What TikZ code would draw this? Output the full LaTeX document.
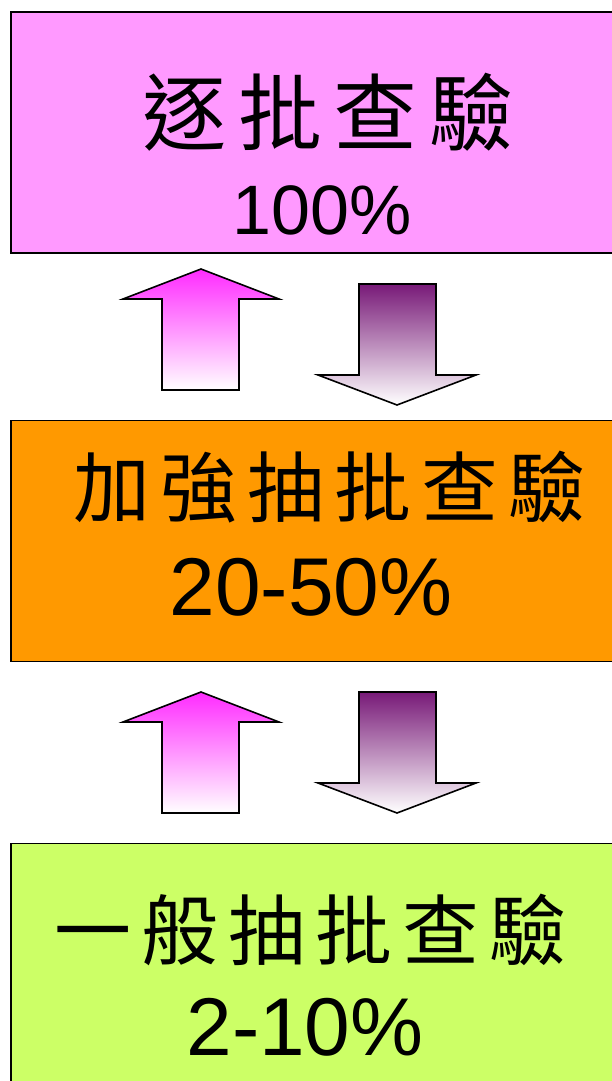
\documentclass[tikz,border=0pt]{standalone}
\usepackage{fontspec}
\setmainfont{Liberation Sans}
\newfontfamily\cjk{Noto Sans CJK TC}
\usepackage{tikz}
\usetikzlibrary{positioning}

\definecolor{toppink}{HTML}{FF99FF}
\definecolor{midorange}{HTML}{FF9900}
\definecolor{lowgreen}{HTML}{CCFF66}
\definecolor{upmagenta}{HTML}{FF2BFF}
\definecolor{downpurple}{HTML}{781A78}

\begin{document}
\begin{tikzpicture}[x=1pt,y=-1pt,
        levelbox/.style = {draw=black, line width=1.6pt,
            minimum width=629pt, minimum height=241pt, inner sep=0pt},
        bigname/.style = {font=\cjk\addfontfeature{LetterSpace=14}\fontsize{84}{84}\selectfont, inner sep=0pt},
        levelname/.style = {font=\cjk\addfontfeature{LetterSpace=13}\fontsize{77}{77}\selectfont, inner sep=0pt},
        rate/.style = {font=\fontsize{82}{82}\selectfont, inner sep=0pt},
        uparrow/.style = {draw=black, line width=1.6pt, line join=miter,
            top color=upmagenta, bottom color=white},
        downarrow/.style = {draw=black, line width=1.6pt, line join=miter,
            top color=downpurple, bottom color=white}]

        \useasboundingbox (0,0) rectangle (612,1081);
        \clip (0,0) rectangle (612,1081);

        % Levels
        \node[levelbox, fill=toppink] (full) at (325.5,132.5) {};
        \node[levelbox, fill=midorange] (tight) at (325.5,541) {};
        \node[levelbox, fill=lowgreen] (normal) at (325.5,964) {};

        % Level texts
        \node[bigname] (fullname) at (328,112) {逐批查驗};
        \node[rate, font=\fontsize{70}{70}\selectfont] (fullrate) at (322,210) {100\%};
        \node[levelname] (tightname) at (330,487) {加強抽批查驗};
        \node[rate] (tightrate) at (311,587) {20-50\%};
        \node[levelname] (normalname) at (311,930) {一般抽批查驗};
        \node[rate] (normalrate) at (305,1027) {2-10\%};

        % Switching arrows
        \foreach \up/\down in {0/0, 423/408} {
            \path[uparrow, shift={(0,\up)}] (162,390) -- (162,299) -- (123,299)
                -- (201,269) -- (279,299) -- (239,299) -- (239,390) -- cycle;
            \path[downarrow, shift={(0,\down)}] (359,284) -- (436,284) -- (436,375)
                -- (476,375) -- (397,405) -- (318,375) -- (359,375) -- cycle;
        }
    \end{tikzpicture}
\end{document}
